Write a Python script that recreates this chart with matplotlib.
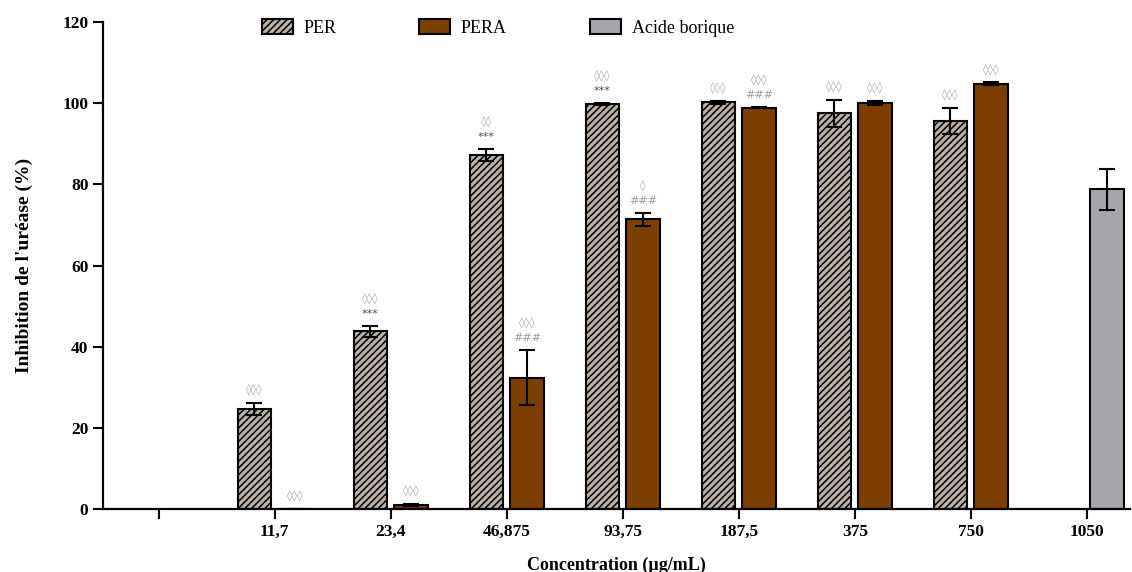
import matplotlib

matplotlib.use("Agg")
import matplotlib.pyplot as plt
import numpy as np

# Urease inhibition by concentration
concentrations = ["", "11,7", "23,4", "46,875", "93,75", "187,5", "375", "750", "1050"]

per_mean = [24.6, 43.8, 87.2, 99.8, 100.2, 97.5, 95.6]
per_err = [1.5, 1.3, 1.5, 0.3, 0.3, 3.4, 3.3]
pera_mean = [0.0, 1.0, 32.4, 71.4, 98.9, 100.1, 104.8]
pera_err = [0.0, 0.3, 6.8, 1.6, 0.2, 0.5, 0.3]
boric_mean = [78.8]
boric_err = [5.0]

# significance marks, listed top line first
per_marks = [["◊◊◊"], ["◊◊◊", "***"], ["◊◊", "***"], ["◊◊◊", "***"],
             ["◊◊◊"], ["◊◊◊"], ["◊◊◊"]]
pera_marks = [["◊◊◊"], ["◊◊◊"], ["◊◊◊", "###"], ["◊", "###"],
              ["◊◊◊", "###"], ["◊◊◊"], ["◊◊◊"]]

PER_FACE = "#bab1a6"
PER_HATCH = "#5c5650"
PERA_COL = "#7c3f00"
BORIC_COL = "#a5a5aa"
MARK_GREY = "#a8a8a8"

plt.rcParams.update({
    "font.family": ["Liberation Serif", "DejaVu Serif"],
    "hatch.color": PER_HATCH,
    "hatch.linewidth": 1.1,
    "axes.linewidth": 1.6,
})

fig = plt.figure(figsize=(11.32, 5.72), dpi=100)
ax = fig.add_axes([0.091, 0.110, 0.907, 0.8515])

w = 0.29
off = 0.175
pos = np.arange(1, len(per_mean) + 1)
err_kw = dict(ecolor="black", elinewidth=1.5, capsize=6, capthick=1.5)

ax.bar(pos - off, per_mean, w, yerr=per_err, color=PER_FACE, hatch="/////",
       edgecolor="black", linewidth=1.5, error_kw=err_kw, label="PER")
ax.bar(pos + off, pera_mean, w, yerr=pera_err, color=PERA_COL,
       edgecolor="black", linewidth=1.5, error_kw=err_kw, label="PERA")
ax.bar([len(per_mean) + 1 + off], boric_mean, w, yerr=boric_err, color=BORIC_COL,
       edgecolor="black", linewidth=1.5, error_kw=err_kw, label="Acide borique")


def put_marks(xs, tops, marks):
    for x, top, lines in zip(xs, tops, marks):
        n = len(lines)
        for i, s in enumerate(lines):
            col = MARK_GREY if "◊" in s else ("#505050" if s == "***" else "#9a9a9a")
            ax.annotate(s, (x, top), xytext=(0, 5 + (n - 1 - i) * 10),
                        textcoords="offset points", ha="center", va="bottom",
                        fontsize=8, color=col, family=["DejaVu Sans"])


put_marks(pos - off, np.add(per_mean, per_err), per_marks)
put_marks(pos + off, np.add(pera_mean, pera_err), pera_marks)

ax.set_ylim(0, 120)
ax.set_xlim(-0.48, 8.37)
ax.set_yticks(range(0, 121, 20))
ax.set_xticks(range(len(concentrations)))
ax.set_xticklabels(concentrations)
ax.tick_params(axis="both", direction="out", length=7, width=1.5, labelsize=12.5)
for lab in ax.get_xticklabels() + ax.get_yticklabels():
    lab.set_fontweight("bold")
ax.spines["top"].set_visible(False)
ax.spines["right"].set_visible(False)

ax.set_ylabel("Inhibition de l'uréase (%)", fontsize=14, fontweight="bold", labelpad=21)
ax.set_xlabel("Concentration (µg/mL)", fontsize=13, fontweight="bold", labelpad=12)

fig.legend(loc="upper left", bbox_to_anchor=(0.217, 0.995), ncol=3, frameon=False,
           fontsize=13, handlelength=1.7, handleheight=0.9, columnspacing=4.6,
           handletextpad=0.6)

fig.savefig("out.png", dpi=100)
